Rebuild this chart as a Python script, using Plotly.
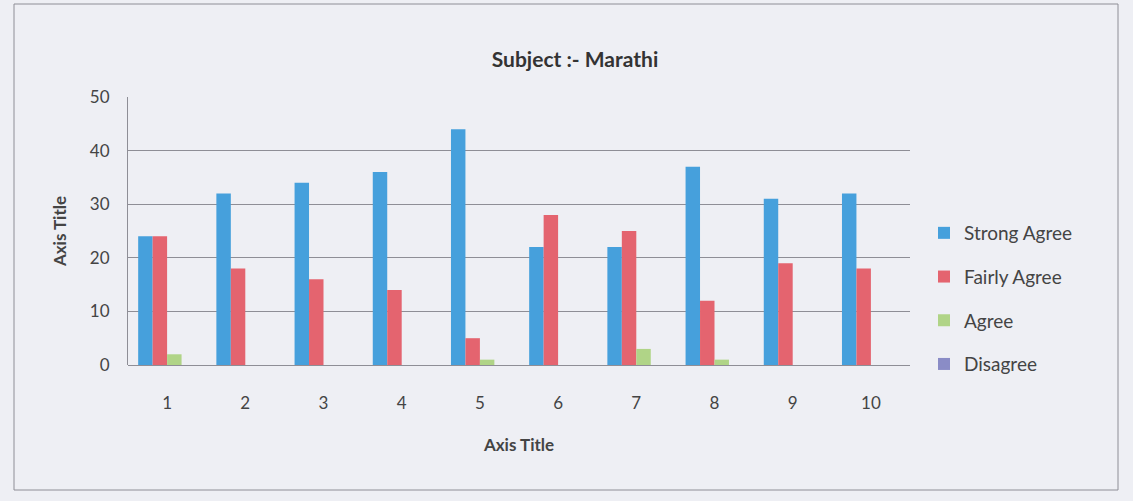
import plotly.graph_objects as go

# Survey responses per question, subject Marathi
questions = ["1", "2", "3", "4", "5", "6", "7", "8", "9", "10"]
strong_agree = [24, 32, 34, 36, 44, 22, 22, 37, 31, 32]
fairly_agree = [24, 18, 16, 14, 5, 28, 25, 12, 19, 18]
agree = [2, 0, 0, 0, 1, 0, 3, 1, 0, 0]
disagree = [0, 0, 0, 0, 0, 0, 0, 0, 0, 0]

series = [
    ("Strong Agree", strong_agree, "#46a0dc"),
    ("Fairly Agree", fairly_agree, "#e4646f"),
    ("Agree", agree, "#b0d487"),
    ("Disagree", disagree, "#8a8cc6"),
]

FONT = "Lato, 'Open Sans', sans-serif"
TEXT = "#444444"

fig = go.Figure()
for i, (name, vals, color) in enumerate(series):
    fig.add_trace(go.Bar(
        x=questions, y=vals, name=name,
        marker=dict(color=color, line=dict(width=0)),
        legendgroup=f"g{i}",
    ))

# plot area edges in pixels (canvas 1133 x 501)
L, R, T, B = 128, 910, 97, 365
W, H = R - L, B - T

fig.update_layout(
    width=1133, height=501,
    margin=dict(l=L, r=1133 - R, t=T, b=501 - B),
    paper_bgcolor="#eeeff4",
    plot_bgcolor="#eeeff4",
    barmode="group",
    bargap=0.26,
    bargroupgap=0,
    font=dict(family=FONT, size=17, color=TEXT),
    title=dict(
        text="<b>Subject :- Marathi</b>",
        x=575 / 1133, xanchor="center",
        y=1 - 60 / 501, yanchor="middle",
        font=dict(family=FONT, size=21, color="#333333"),
    ),
    legend=dict(
        x=(924 - L) / W, xanchor="left",
        y=(B - 214) / H, yanchor="top",
        font=dict(family=FONT, size=19, color=TEXT),
        bgcolor="rgba(0,0,0,0)",
        tracegroupgap=16,
        itemwidth=30,
    ),
    xaxis=dict(
        showgrid=False,
        showline=False,
        ticks="",
        ticklabelstandoff=26,
        tickfont=dict(size=17, color=TEXT),
        title=dict(text="<b>Axis Title</b>", font=dict(size=17, color=TEXT), standoff=27),
    ),
    yaxis=dict(
        range=[0, 50],
        dtick=10,
        showgrid=True,
        gridcolor="#8e8e96",
        gridwidth=1,
        zeroline=True,
        zerolinecolor="#8e8e96",
        zerolinewidth=1,
        showline=True,
        linecolor="#8e8e96",
        linewidth=1,
        ticks="",
        ticklabelstandoff=14,
        tickfont=dict(size=17, color=TEXT),
        title=dict(text="<b>Axis Title</b>", font=dict(size=17, color=TEXT), standoff=18),
    ),
    shapes=[
        dict(
            type="rect", xref="paper", yref="paper",
            x0=(14 - L) / W, x1=(1118 - L) / W,
            y0=(B - 490) / H, y1=(B - 4) / H,
            line=dict(color="#8e8e96", width=1),
            fillcolor="rgba(0,0,0,0)",
            layer="below",
        )
    ],
)

fig.write_html("out.html")
